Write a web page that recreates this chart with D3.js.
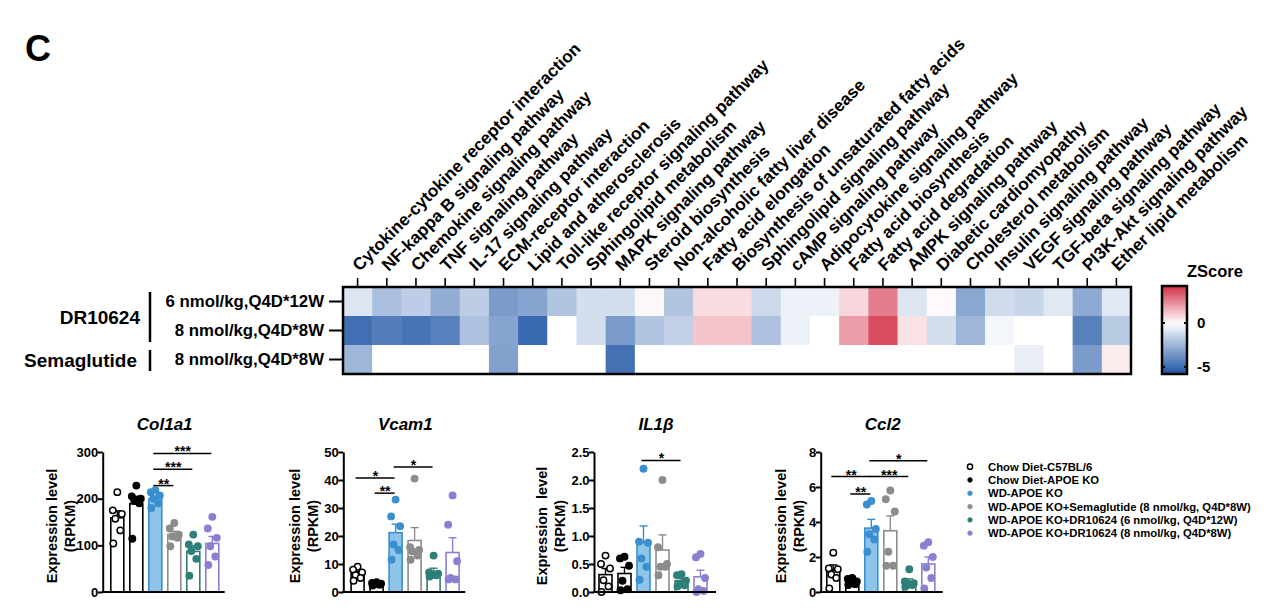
<!DOCTYPE html>
<html>
<head>
<meta charset="utf-8">
<script src="https://cdn.jsdelivr.net/npm/d3@7/dist/d3.min.js"></script>
<style>
body{margin:0;background:#fff;}
svg{display:block;font-family:"Liberation Sans",Arial,sans-serif;font-weight:bold;}
</style>
</head>
<body>
<svg id="chart" width="1280" height="612"></svg>
<script>
// ---- heatmap data ----
var pathways = [
	"Cytokine-cytokine receptor interaction", "NF-kappa B signaling pathway", "Chemokine signaling pathway",
	"TNF signaling pathway", "IL-17 signaling pathway", "ECM-receptor interaction", "Lipid and atherosclerosis",
	"Toll-like receptor signaling pathway", "Sphingolipid metabolism", "MAPK signaling pathway",
	"Steroid biosynthesis", "Non-alcoholic fatty liver disease", "Fatty acid elongation",
	"Biosynthesis of unsaturated fatty acids", "Sphingolipid signaling pathway", "cAMP signaling pathway",
	"Adipocytokine signaling pathway", "Fatty acid biosynthesis", "Fatty acid degradation",
	"AMPK signaling pathway", "Diabetic cardiomyopathy", "Cholesterol metabolism", "Insulin signaling pathway",
	"VEGF signaling pathway", "TGF-beta signaling pathway", "PI3K-Akt signaling pathway", "Ether lipid metabolism"
];
var rowLabels = ["6 nmol/kg,Q4D*12W", "8 nmol/kg,Q4D*8W", "8 nmol/kg,Q4D*8W"];
// null = not significant (white cell)
var zDr6w12 = [-0.9, -2.2, -1.7, -2.8, -1.7, -3.4, -3.1, -2.0, -1.1, -1.1, 0.15, -2.0, 0.7, 0.7,
	-1.3, -0.45, -0.45, 0.8, 2.6, -0.9, 0.1, -3.0, -1.2, -1.4, -0.8, -2.9, -0.8];
var zDr8w8 = [-4.9, -4.4, -4.7, -4.3, -2.1, -3.1, -5.1, null, -1.1, -3.4, -2.0, -1.6, 1.2, 1.2,
	-2.1, -0.5, null, 2.0, 3.6, 0.6, -1.1, -2.5, -0.3, null, null, -4.3, -1.8];
var zSema8w8 = [-2.5, null, null, null, null, -3.2, null, null, null, -4.8, null, null, null, null,
	null, null, null, null, null, null, null, null, null, -0.6, null, -3.4, 0.4];
var drugNames = ["DR10624", "Semaglutide"];
var drugRows = [[0, 1], [2]];
var zDomain = [-5.8, 0, 4.2];
var zTicks = [0, -5];

// ---- bar chart data ----
var groupNames = [
	"Chow Diet-C57BL/6", "Chow Diet-APOE KO", "WD-APOE KO",
	"WD-APOE KO+Semaglutide (8 nmol/kg, Q4D*8W)", "WD-APOE KO+DR10624 (6 nmol/kg, Q4D*12W)",
	"WD-APOE KO+DR10624 (8 nmol/kg, Q4D*8W)"
];
var genes = ["Col1a1", "Vcam1", "IL1β", "Ccl2"];
var yMaxes = [300, 50, 2.5, 8];
var yTickVals = [[0, 100, 200, 300], [0, 10, 20, 30, 40, 50], [0, 0.5, 1.0, 1.5, 2.0, 2.5], [0, 2, 4, 6, 8]];
var yTickFmt = ["d", "d", ".1f", "d"];

var col1a1Mean = [159, 189, 200, 123, 87, 104];
var col1a1Sem = [15, 16, 6, 7, 12, 15];
var col1a1Pts = [[214, 175, 167, 157, 132, 104], [228, 205, 200, 195, 190, 114], [218, 214, 207, 200, 190, 180],
	[148, 136, 123, 119, 116, 98], [123, 102, 98, 88, 71, 35], [161, 136, 116, 98, 76, 58]];
var col1a1Sig = [[2, 3, 228, "**"], [2, 4, 263, "***"], [2, 5, 297, "***"]];

var vcam1Mean = [6.5, 3.0, 21.2, 18.4, 7.3, 14.1];
var vcam1Sem = [0.8, 0.2, 3.0, 4.6, 1.2, 5.3];
var vcam1Pts = [[9, 8, 7, 6, 5, 4], [3.5, 3.2, 3.0, 2.8, 2.6, 2.3], [33, 27, 23.5, 17, 15, 11.5],
	[40.5, 16, 15, 14.5, 13, 11.5], [13, 7, 6.5, 6, 6, 5.5], [34.5, 24, 11, 5, 4.5, 4.5]];
var vcam1Sig = [[0, 2, 40.7, "*"], [1, 2, 35.3, "**"], [2, 4, 44.6, "*"]];

var il1bMean = [0.31, 0.33, 0.88, 0.75, 0.2, 0.27];
var il1bSem = [0.11, 0.11, 0.3, 0.27, 0.04, 0.12];
var il1bPts = [[0.65, 0.5, 0.42, 0.21, 0.1, 0.0], [0.63, 0.6, 0.47, 0.2, 0.05, 0.03], [2.2, 0.9, 0.88, 0.6, 0.45, 0.22],
	[2.0, 0.8, 0.5, 0.45, 0.45, 0.3], [0.32, 0.3, 0.2, 0.15, 0.12, 0.1], [0.68, 0.62, 0.25, 0.05, 0.02, 0.0]];
var il1bSig = [[2, 4, 2.35, "*"]];

var ccl2Mean = [1.25, 0.6, 3.65, 3.5, 0.6, 1.6];
var ccl2Sem = [0.3, 0.07, 0.5, 0.85, 0.15, 0.4];
var ccl2Pts = [[2.25, 1.35, 1.3, 1.0, 0.8, 0.2], [0.8, 0.75, 0.6, 0.5, 0.45, 0.4], [5.2, 5.0, 3.6, 3.3, 3.0, 2.3],
	[5.8, 5.3, 4.6, 2.3, 1.5, 1.5], [1.3, 0.6, 0.5, 0.4, 0.4, 0.3], [2.85, 2.65, 2.0, 1.4, 0.8, 0.2]];
var ccl2Sig = [[0, 2, 6.6, "**"], [1, 2, 5.6, "**"], [2, 4, 6.6, "***"], [2, 5, 7.5, "*"]];

var geneMeans = [col1a1Mean, vcam1Mean, il1bMean, ccl2Mean];
var geneSems = [col1a1Sem, vcam1Sem, il1bSem, ccl2Sem];
var genePts = [col1a1Pts, vcam1Pts, il1bPts, ccl2Pts];
var geneSig = [col1a1Sig, vcam1Sig, il1bSig, ccl2Sig];

// group colours
var groupColor = ["#000000", "#000000", "#3a8fd0", "#8c8c8c", "#2e7f78", "#8a80d2"];
var barFill = ["#ffffff", "#ffffff", "#8fc4ea", "#ffffff", "#ffffff", "#ffffff"];
var ptFill = ["#ffffff", "#000000", "#3a8fd0", "#8c8c8c", "#2e7f78", "#8a80d2"];

var svg = d3.select("#chart");

// panel letter
svg.append("text").attr("x", 25).attr("y", 61)
.style("font-size", "36px").text("C");

// ================= heatmap =================
var hm = {left: 343, right: 1131, top: 287, bottom: 374};
var zRows = [zDr6w12, zDr8w8, zSema8w8];

var xCol = d3.scaleBand().domain(pathways).range([hm.left, hm.right]);
var yRow = d3.scaleBand().domain([0, 1, 2]).range([hm.top, hm.bottom]);
var zColor = d3.scaleLinear().domain(zDomain).range(["#1d55a5", "#ffffff", "#d42f45"]);

var cells = [];
zRows.forEach(function(r, i){
	r.forEach(function(v, j){ cells.push({row: i, col: pathways[j], v: v}); });
});

svg.append("g").selectAll("rect")
.data(cells)
.enter().append("rect")
.attr("x", function(d){ return xCol(d.col); })
.attr("y", function(d){ return yRow(d.row); })
.attr("width", xCol.bandwidth() + 0.5)
.attr("height", yRow.bandwidth() + 0.5)
.attr("fill", function(d){ return d.v === null ? "#ffffff" : zColor(d.v); });

svg.append("rect")
.attr("x", hm.left).attr("y", hm.top)
.attr("width", hm.right - hm.left).attr("height", hm.bottom - hm.top)
.attr("fill", "none").attr("stroke", "#000").attr("stroke-width", 2.5);

// column ticks + rotated labels
var colG = svg.append("g").selectAll("g")
.data(pathways)
.enter().append("g")
.attr("transform", function(d){ return "translate(" + (xCol(d) + xCol.bandwidth() / 2) + ",0)"; });

colG.append("line")
.attr("y1", hm.top).attr("y2", hm.top - 9)
.attr("stroke", "#000").attr("stroke-width", 1.6);

colG.append("text")
.attr("transform", "translate(2," + (hm.top - 15) + ") rotate(-45)")
.style("font-size", "17.2px")
.text(function(d){ return d; });

// row ticks + labels
var rowG = svg.append("g").selectAll("g")
.data(rowLabels)
.enter().append("g")
.attr("transform", function(d, i){ return "translate(0," + (yRow(i) + yRow.bandwidth() / 2) + ")"; });

rowG.append("line")
.attr("x1", hm.left - 14).attr("x2", hm.left)
.attr("stroke", "#000").attr("stroke-width", 2);

rowG.append("text")
.attr("x", hm.left - 19).attr("dy", "0.35em")
.attr("text-anchor", "end")
.style("font-size", "16.8px")
.text(function(d){ return d; });

// drug group brackets
drugNames.forEach(function(name, k){
	var rows = drugRows[k];
	var y0 = yRow(rows[0]) + 5, y1 = yRow(rows[rows.length - 1]) + yRow.bandwidth() - 3;
	svg.append("line")
	.attr("x1", 150).attr("x2", 150).attr("y1", y0).attr("y2", y1)
	.attr("stroke", "#000").attr("stroke-width", 2.5);
	svg.append("text")
	.attr("x", k === 0 ? 140 : 137).attr("y", (y0 + y1) / 2).attr("dy", "0.35em")
	.attr("text-anchor", "end")
	.style("font-size", "19px")
	.text(name);
});

// colour bar
var cb = {x: 1162, w: 25};
var zScale = d3.scaleLinear().domain([zDomain[0], zDomain[2]]).range([hm.bottom, hm.top - 1]);

var grad = svg.append("defs").append("linearGradient")
.attr("id", "zgrad").attr("x1", 0).attr("x2", 0).attr("y1", 1).attr("y2", 0);
grad.selectAll("stop")
.data(d3.range(0, 1.001, 0.05))
.enter().append("stop")
.attr("offset", function(t){ return t; })
.attr("stop-color", function(t){ return zColor(zDomain[0] + t * (zDomain[2] - zDomain[0])); });

svg.append("rect")
.attr("x", cb.x).attr("y", zScale.range()[1])
.attr("width", cb.w).attr("height", zScale.range()[0] - zScale.range()[1])
.attr("fill", "url(#zgrad)").attr("stroke", "#000").attr("stroke-width", 2.5);

var cbTicks = svg.append("g").selectAll("g")
.data(zTicks)
.enter().append("g")
.attr("transform", function(d){ return "translate(0," + zScale(d) + ")"; });
cbTicks.append("line").attr("x1", cb.x).attr("x2", cb.x + 3).attr("stroke", "#000").attr("stroke-width", 2);
cbTicks.append("line").attr("x1", cb.x + cb.w - 3).attr("x2", cb.x + cb.w).attr("stroke", "#000").attr("stroke-width", 2);
cbTicks.append("text")
.attr("x", cb.x + cb.w + 10).attr("dy", "0.35em")
.style("font-size", "15px")
.text(function(d){ return d; });

svg.append("text")
.attr("x", 1215).attr("y", 277)
.attr("text-anchor", "middle")
.style("font-size", "16.5px")
.text("ZScore");

// ================= bar charts =================
var axisLeft = [102.7, 343.3, 594, 820.7];
var barStart = [14.6, 14.3, 11.5, 12.6];
var yLabelOff = [51, 48, 52, 40]; // centre of first label line, left of axis
var axisLen = 122,
plotTop = 452, plotBottom = 592,
barW = 13,
jitter = [0, -4.5, 4.5, -2, 3, -4];

genes.forEach(function(gene, gi){
	var ax = axisLeft[gi];
	var g = svg.append("g");

	var x = d3.scalePoint().domain(d3.range(6))
	.range([ax + barStart[gi], ax + barStart[gi] + 5 * 19]);
	var y = d3.scaleLinear().domain([0, yMaxes[gi]]).range([plotBottom, plotTop]);

	// title
	g.append("text")
	.attr("x", ax + 62).attr("y", 430)
	.attr("text-anchor", "middle")
	.style("font-size", "17px").style("font-style", "italic")
	.text(gene);

	// y axis label (two lines)
	var lab = g.append("text")
	.attr("transform", "translate(" + (ax - yLabelOff[gi]) + ",526) rotate(-90)")
	.attr("text-anchor", "middle")
	.style("font-size", "14.5px");
	lab.append("tspan").attr("x", 0).attr("dy", "0.35em")
	.style("white-space", "pre")
	.text(gi === 2 ? "Expression  level" : "Expression level");
	lab.append("tspan").attr("x", 0).attr("dy", "1.25em").text("(RPKM)");

	// bars
	var means = geneMeans[gi], sems = geneSems[gi];
	g.selectAll(".bar")
	.data(means)
	.enter().append("rect")
	.attr("class", "bar")
	.attr("x", function(d, i){ return x(i) - barW / 2; })
	.attr("y", function(d){ return y(d); })
	.attr("width", barW)
	.attr("height", function(d){ return plotBottom - y(d); })
	.attr("fill", function(d, i){ return barFill[i]; })
	.attr("stroke", function(d, i){ return groupColor[i]; })
	.attr("stroke-width", 1.6);

	// error bars (upper)
	var err = g.selectAll(".err")
	.data(means)
	.enter().append("g")
	.attr("class", "err")
	.attr("stroke", function(d, i){ return groupColor[i]; })
	.attr("stroke-width", 1.4);
	err.append("line")
	.attr("x1", function(d, i){ return x(i); })
	.attr("x2", function(d, i){ return x(i); })
	.attr("y1", function(d){ return y(d); })
	.attr("y2", function(d, i){ return y(d + sems[i]); });
	err.append("line")
	.attr("x1", function(d, i){ return x(i) - 4; })
	.attr("x2", function(d, i){ return x(i) + 4; })
	.attr("y1", function(d, i){ return y(d + sems[i]); })
	.attr("y2", function(d, i){ return y(d + sems[i]); });

	// individual points
	var pts = [];
	genePts[gi].forEach(function(arr, i){
		arr.forEach(function(v, k){ pts.push({grp: i, v: v, k: k}); });
	});
	g.selectAll(".pt")
	.data(pts)
	.enter().append("circle")
	.attr("class", "pt")
	.attr("cx", function(d){ return x(d.grp) + jitter[d.k]; })
	.attr("cy", function(d){ return y(d.v); })
	.attr("r", 3.2)
	.attr("fill", function(d){ return ptFill[d.grp]; })
	.attr("stroke", function(d){ return groupColor[d.grp]; })
	.attr("stroke-width", 1.5);

	// axes
	g.append("g")
	.attr("transform", "translate(" + ax + ",0)")
	.call(d3.axisLeft(y).tickValues(yTickVals[gi]).tickFormat(d3.format(yTickFmt[gi])).tickSize(5).tickSizeOuter(0))
	.call(function(a){
		a.select(".domain").attr("stroke-width", 2);
		a.selectAll(".tick line").attr("stroke-width", 2);
		a.selectAll(".tick text").style("font-size", "13px").style("font-family", null).attr("x", -4.5);
	});
	g.append("line")
	.attr("x1", ax - 1).attr("x2", ax + axisLen)
	.attr("y1", plotBottom).attr("y2", plotBottom)
	.attr("stroke", "#000").attr("stroke-width", 2);

	// significance brackets
	var sig = g.selectAll(".sig")
	.data(geneSig[gi])
	.enter().append("g")
	.attr("class", "sig");
	sig.append("line")
	.attr("x1", function(d){ return x(d[0]) - 2; })
	.attr("x2", function(d){ return x(d[1]) - 1; })
	.attr("y1", function(d){ return y(d[2]); })
	.attr("y2", function(d){ return y(d[2]); })
	.attr("stroke", "#000").attr("stroke-width", 1.5);
	sig.append("text")
	.attr("x", function(d){ return (x(d[0]) + x(d[1])) / 2 - 1; })
	.attr("y", function(d){ return y(d[2]) + 3; })
	.attr("text-anchor", "middle")
	.style("font-size", "14px")
	.text(function(d){ return d[3]; });
});

// legend
var leg = svg.append("g").selectAll("g")
.data(groupNames)
.enter().append("g")
.attr("transform", function(d, i){ return "translate(970," + (466.7 + i * 13.3) + ")"; });
leg.append("circle")
.attr("r", function(d, i){ return i === 0 ? 2.6 : 2.4; })
.attr("fill", function(d, i){ return ptFill[i]; })
.attr("stroke", function(d, i){ return groupColor[i]; })
.attr("stroke-width", function(d, i){ return i === 0 ? 1.5 : 0.5; });
leg.append("text")
.attr("x", 18).attr("dy", "0.35em")
.style("font-size", "11.3px")
.text(function(d){ return d; });
</script>
</body>
</html>
